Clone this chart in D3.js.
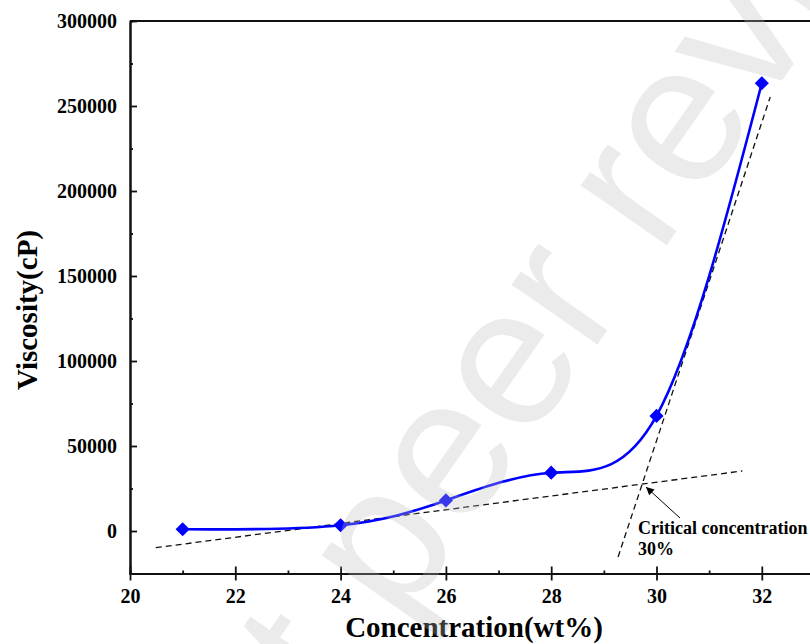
<!DOCTYPE html>
<html>
<head>
<meta charset="utf-8">
<script src="https://cdn.jsdelivr.net/npm/d3@7"></script>
<style>
  body { margin: 0; background: #fff; }
  text { font-family: "Liberation Serif", "Times New Roman", serif; font-weight: bold; }
</style>
</head>
<body>
<svg id="chart" width="810" height="644"></svg>
<script>
// measured points
var concentration = [21, 24, 26, 28, 30, 32];
var viscosity = [1000, 3400, 18000, 34300, 67700, 263400];

// the two dashed tangent lines, end points in data units
var lowFit = [[20.49, -9800], [31.63, 35300]];
var highFit = [[29.27, -15300], [32.16, 255300]];

var xTicks = [20, 22, 24, 26, 28, 30, 32];
var xMinor = [21, 23, 25, 27, 29, 31, 33];
var yTicks = [0, 50000, 100000, 150000, 200000, 250000, 300000];
var yMinor = [25000, 75000, 125000, 175000, 225000, 275000];

var svg = d3.select("#chart");

var x = d3.scaleLinear().domain([20, 34]).range([130, 867.1]);
var y = d3.scaleLinear().domain([-25000, 300000]).range([573.5, 21]);

var axisColor = "#111";
var serif = '"Liberation Serif", "Times New Roman", serif';

// y axis
var gy = svg.append("g")
    .attr("transform", "translate(" + x(20) + ",0)")
    .call(d3.axisLeft(y).tickValues(yTicks).tickSizeInner(7).tickSizeOuter(0)
        .tickPadding(6).tickFormat(d3.format("d")));
gy.selectAll(".tick line").attr("x2", 7);
gy.selectAll(".tick text").style("font-size", "20px").attr("fill", "#000")
    .style("font-family", serif);
svg.append("g")
    .attr("transform", "translate(" + x(20) + ",0)")
    .call(d3.axisRight(y).tickValues(yMinor).tickSize(3).tickFormat(""));

// x axis
var gx = svg.append("g")
    .attr("transform", "translate(0," + y(-25000) + ")")
    .call(d3.axisBottom(x).tickValues(xTicks).tickSizeInner(7).tickSizeOuter(0)
        .tickPadding(8).tickFormat(d3.format("d")));
gx.selectAll(".tick line").attr("y2", 7).attr("y1", -7);
gx.selectAll(".tick text").style("font-size", "20px").attr("fill", "#000")
    .style("font-family", serif);
svg.append("g")
    .attr("transform", "translate(0," + y(-25000) + ")")
    .call(d3.axisTop(x).tickValues(xMinor).tickSize(3).tickFormat(""));

// top frame line
svg.append("line")
    .attr("x1", x(20)).attr("x2", x(34))
    .attr("y1", y(300000)).attr("y2", y(300000));

svg.selectAll(".domain, line").attr("stroke", axisColor).attr("stroke-width", 2);
svg.selectAll(".tick line").attr("stroke-width", 1.8);

// axis titles
svg.append("text")
    .attr("x", 474).attr("y", 637)
    .attr("text-anchor", "middle")
    .style("font-size", "29px")
    .text("Concentration(wt%)");

svg.append("text")
    .attr("transform", "translate(37,310) rotate(-90)")
    .attr("text-anchor", "middle")
    .style("font-size", "29px")
    .text("Viscosity(cP)");

// dashed tangents
var straight = d3.line().x(d => x(d[0])).y(d => y(d[1]));
[lowFit, highFit].forEach(function(seg) {
    svg.append("path")
        .attr("d", straight(seg))
        .attr("fill", "none")
        .attr("stroke", "#111")
        .attr("stroke-width", 1.3)
        .attr("stroke-dasharray", "6,4");
});

// curve
var pts = concentration.map((c, i) => [c, viscosity[i]]);
var curve = d3.line()
    .x(d => x(d[0])).y(d => y(d[1]))
    .curve(d3.curveNatural);

svg.append("path")
    .attr("d", curve(pts))
    .attr("fill", "none")
    .attr("stroke", "#0000ff")
    .attr("stroke-width", 2.6);

svg.selectAll(".marker")
    .data(pts)
    .enter().append("path")
    .attr("class", "marker")
    .attr("d", d3.symbol(d3.symbolSquare, 100))
    .attr("transform", d => "translate(" + x(d[0]) + "," + y(d[1]) + ") rotate(45)")
    .attr("fill", "#0000ff");

// annotation
var defs = svg.append("defs");
defs.append("marker")
    .attr("id", "arrow")
    .attr("viewBox", "0 0 10 10")
    .attr("refX", 10).attr("refY", 5)
    .attr("markerWidth", 11).attr("markerHeight", 8)
    .attr("markerUnits", "userSpaceOnUse")
    .attr("orient", "auto")
    .append("path")
    .attr("d", "M0,0 L10,5 L0,10 z")
    .attr("fill", "#000");

svg.append("line")
    .attr("x1", 680).attr("y1", 518)
    .attr("x2", 646).attr("y2", 487)
    .attr("stroke", "#000").attr("stroke-width", 1)
    .attr("marker-end", "url(#arrow)");

svg.append("text")
    .attr("x", 638).attr("y", 534)
    .style("font-size", "18px")
    .text("Critical concentration");
svg.append("text")
    .attr("x", 638).attr("y", 555)
    .style("font-size", "18px")
    .text("30%");

// watermark on top
var wmSize = 198;
svg.append("g")
    .attr("transform", "translate(686,128) rotate(-55)")
    .append("text")
    .attr("x", -4.724 * wmSize)
    .attr("y", 0.26 * wmSize)
    .style("font-family", '"Liberation Sans", Arial, sans-serif')
    .style("font-weight", "normal")
    .style("font-size", wmSize + "px")
    .attr("fill", "rgb(190,190,190)")
    .attr("fill-opacity", 0.3)
    .text("Not peer reviewed");
</script>
</body>
</html>
